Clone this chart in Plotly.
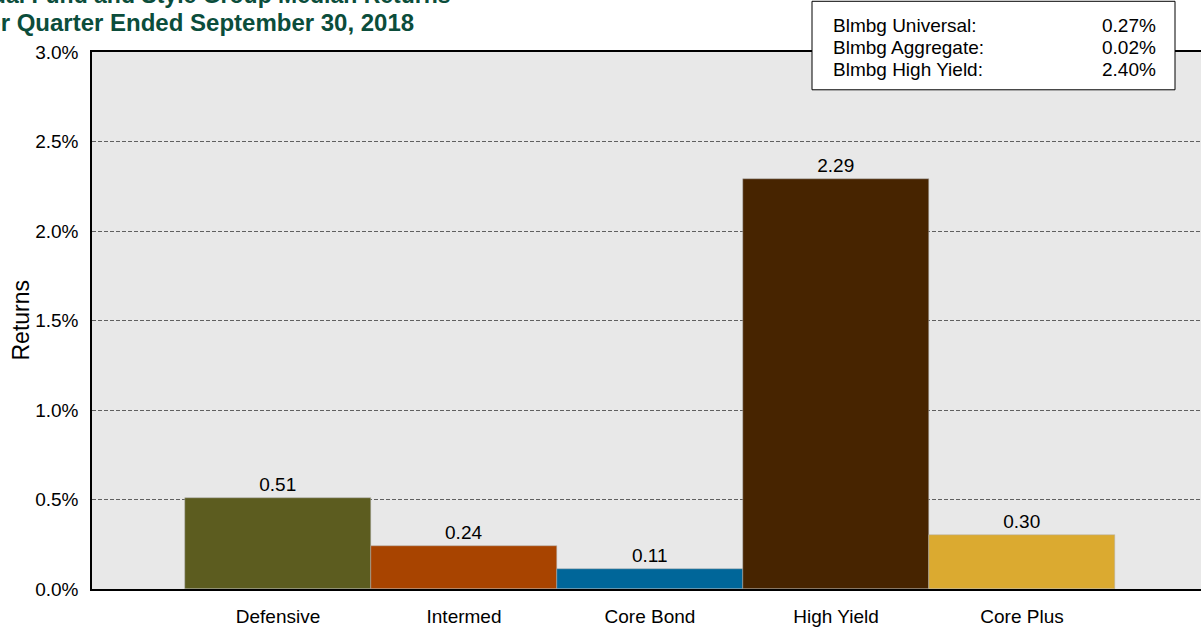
import plotly.graph_objects as go

categories = ["Defensive", "Intermed", "Core Bond", "High Yield", "Core Plus"]
returns = [0.51, 0.24, 0.11, 2.29, 0.30]
bar_colors = ["#5C5C1F", "#A84400", "#006699", "#472400", "#DBAA30"]
index_names = ["Blmbg Universal:", "Blmbg Aggregate:", "Blmbg High Yield:"]
index_values = ["0.27%", "0.02%", "2.40%"]
title_line1 = "Mutual Fund and Style Group Median Returns"
title_line2 = "for Quarter Ended September 30, 2018"

W, H = 1201, 627
L, T, B, R = 92, 52, 35, 0
PW, PH = W - L - R, H - T - B
FONT = "Liberation Sans, Arial, sans-serif"
FS = 19


def px2x(px):
    return (px - L) / PW


def px2y(py):
    return (H - B - py) / PH


fig = go.Figure()
fig.add_trace(go.Bar(
    x=categories, y=returns,
    marker=dict(color=bar_colors, line=dict(color="#B0B0B0", width=0.5)),
    text=[f"{v:.2f}" for v in returns], textposition="outside",
    textfont=dict(size=FS, color="black", family=FONT),
    cliponaxis=False, width=1.0, hoverinfo="skip",
))

annotations = [
    dict(text="<b>" + title_line1 + "</b>", x=px2x(453), y=px2y(-5), xanchor="right", yanchor="middle",
         font=dict(size=23, color="#0B4D3B", family=FONT)),
    dict(text="<b>" + title_line2 + "</b>", x=px2x(416), y=px2y(22), xanchor="right", yanchor="middle",
         font=dict(size=24, color="#0B4D3B", family=FONT)),
]
for a in annotations:
    a.update(xref="paper", yref="paper", showarrow=False)

rows_y = [25, 47, 70]
for name, val, ry in zip(index_names, index_values, rows_y):
    annotations.append(dict(text=name, x=px2x(831), y=px2y(ry), xanchor="left", yanchor="middle",
                            xref="paper", yref="paper", showarrow=False,
                            font=dict(size=FS, color="black", family=FONT)))
    annotations.append(dict(text=val, x=px2x(1158), y=px2y(ry), xanchor="right", yanchor="middle",
                            xref="paper", yref="paper", showarrow=False,
                            font=dict(size=FS, color="black", family=FONT)))

annotations.append(dict(text="Returns", x=px2x(20), y=px2y(322), xanchor="center", yanchor="middle",
                        textangle=-90, xref="paper", yref="paper", showarrow=False,
                        font=dict(size=23, color="black", family=FONT)))

fig.update_layout(
    width=W, height=H,
    margin=dict(l=L, r=R, t=T, b=B, pad=0),
    paper_bgcolor="white", plot_bgcolor="#E8E8E8",
    showlegend=False, bargap=0,
    font=dict(family=FONT, size=FS, color="black"),
    annotations=annotations,
    shapes=[dict(type="rect", xref="paper", yref="paper",
                 x0=px2x(812), x1=px2x(1175), y0=px2y(1), y1=px2y(90),
                 fillcolor="white", line=dict(color="black", width=1), layer="above")],
    xaxis=dict(range=[-1, -1 + PW / 186.0], showgrid=False, showline=True, mirror=True,
               linecolor="black", linewidth=1.5, ticks="", ticklabelstandoff=9,
               tickfont=dict(size=FS, color="black"), zeroline=False, fixedrange=True),
    yaxis=dict(range=[0, 3], dtick=0.5, tickformat=".1f", ticksuffix="%",
               showgrid=True, gridcolor="#606060", griddash="4px,2px", gridwidth=1,
               showline=True, linecolor="black", linewidth=1.5, ticks="", ticklabelstandoff=8,
               tickfont=dict(size=FS, color="black"), zeroline=False, fixedrange=True),
)

fig.write_html("out.html", config={"displayModeBar": False},
               post_script="document.body.style.margin='0';document.body.style.overflow='hidden';")
